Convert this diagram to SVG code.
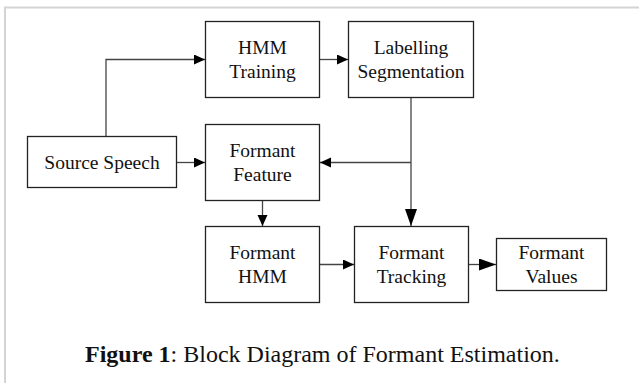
<svg xmlns="http://www.w3.org/2000/svg" width="639" height="383" viewBox="0 0 639 383">
<style>
.box{fill:#fff;stroke:#222;stroke-width:1.3}
.t{font-family:"Liberation Serif","Times New Roman",serif;font-size:19.5px;fill:#111;text-anchor:middle}
.c{fill:none;stroke:#444;stroke-width:1.3}
.cap{font-family:"Liberation Serif","Times New Roman",serif;font-size:24px;fill:#111}
</style>
<defs>
<marker id="a" markerUnits="userSpaceOnUse" markerWidth="12" markerHeight="11" refX="11" refY="5" orient="auto"><path d="M0,0 L11,5 L0,10 z" fill="#000"/></marker>
<marker id="b" markerUnits="userSpaceOnUse" markerWidth="18" markerHeight="13" refX="17" refY="6" orient="auto"><path d="M0,0 L17,6 L0,12 z" fill="#000"/></marker>
</defs>
<rect width="639" height="383" fill="#fff"/>
<path d="M4,7.5 H639 M5,7 V383" stroke="#d4d4d4" stroke-width="2" fill="none"/>
<g id="connectors">
<path class="c" d="M106,136.5 V59.5 H205" marker-end="url(#a)"/>
<path class="c" d="M319.5,59.5 H348" marker-end="url(#a)"/>
<path class="c" d="M176.5,162.5 H205" marker-end="url(#a)"/>
<path class="c" d="M411,97.5 V226" marker-end="url(#b)" stroke="#666"/>
<path class="c" d="M411,162.5 H320" marker-end="url(#a)" stroke="#666"/>
<path class="c" d="M262.5,200.5 V226" marker-end="url(#a)"/>
<path class="c" d="M319.5,264.5 H354" marker-end="url(#a)"/>
<path class="c" d="M468.5,264.5 H496" marker-end="url(#b)"/>
</g>
<g id="hmm-training">
<rect class="box" x="205.5" y="21.5" width="114" height="76"/>
<text class="t" x="262.5" y="53.5">HMM</text>
<text class="t" x="262.5" y="77.5">Training</text>
</g>
<g id="labelling-segmentation">
<rect class="box" x="348.5" y="21.5" width="125" height="76"/>
<text class="t" x="411" y="53.5">Labelling</text>
<text class="t" x="411" y="77.5">Segmentation</text>
</g>
<g id="source-speech">
<rect class="box" x="27.5" y="136.5" width="149" height="51"/>
<text class="t" x="102" y="168.5">Source Speech</text>
</g>
<g id="formant-feature">
<rect class="box" x="205.5" y="124.5" width="114" height="76"/>
<text class="t" x="262.5" y="156.5">Formant</text>
<text class="t" x="262.5" y="180.5">Feature</text>
</g>
<g id="formant-hmm">
<rect class="box" x="205.5" y="226.5" width="114" height="76"/>
<text class="t" x="262.5" y="258.5">Formant</text>
<text class="t" x="262.5" y="282.5">HMM</text>
</g>
<g id="formant-tracking">
<rect class="box" x="354.5" y="226.5" width="114" height="76"/>
<text class="t" x="411.5" y="258.5">Formant</text>
<text class="t" x="411.5" y="282.5">Tracking</text>
</g>
<g id="formant-values">
<rect class="box" x="496.5" y="238.5" width="110" height="52"/>
<text class="t" x="551.5" y="258.5">Formant</text>
<text class="t" x="551.5" y="282.5">Values</text>
</g>
<text class="cap" x="85" y="362"><tspan font-weight="bold">Figure 1</tspan>: Block Diagram of Formant Estimation.</text>
</svg>
